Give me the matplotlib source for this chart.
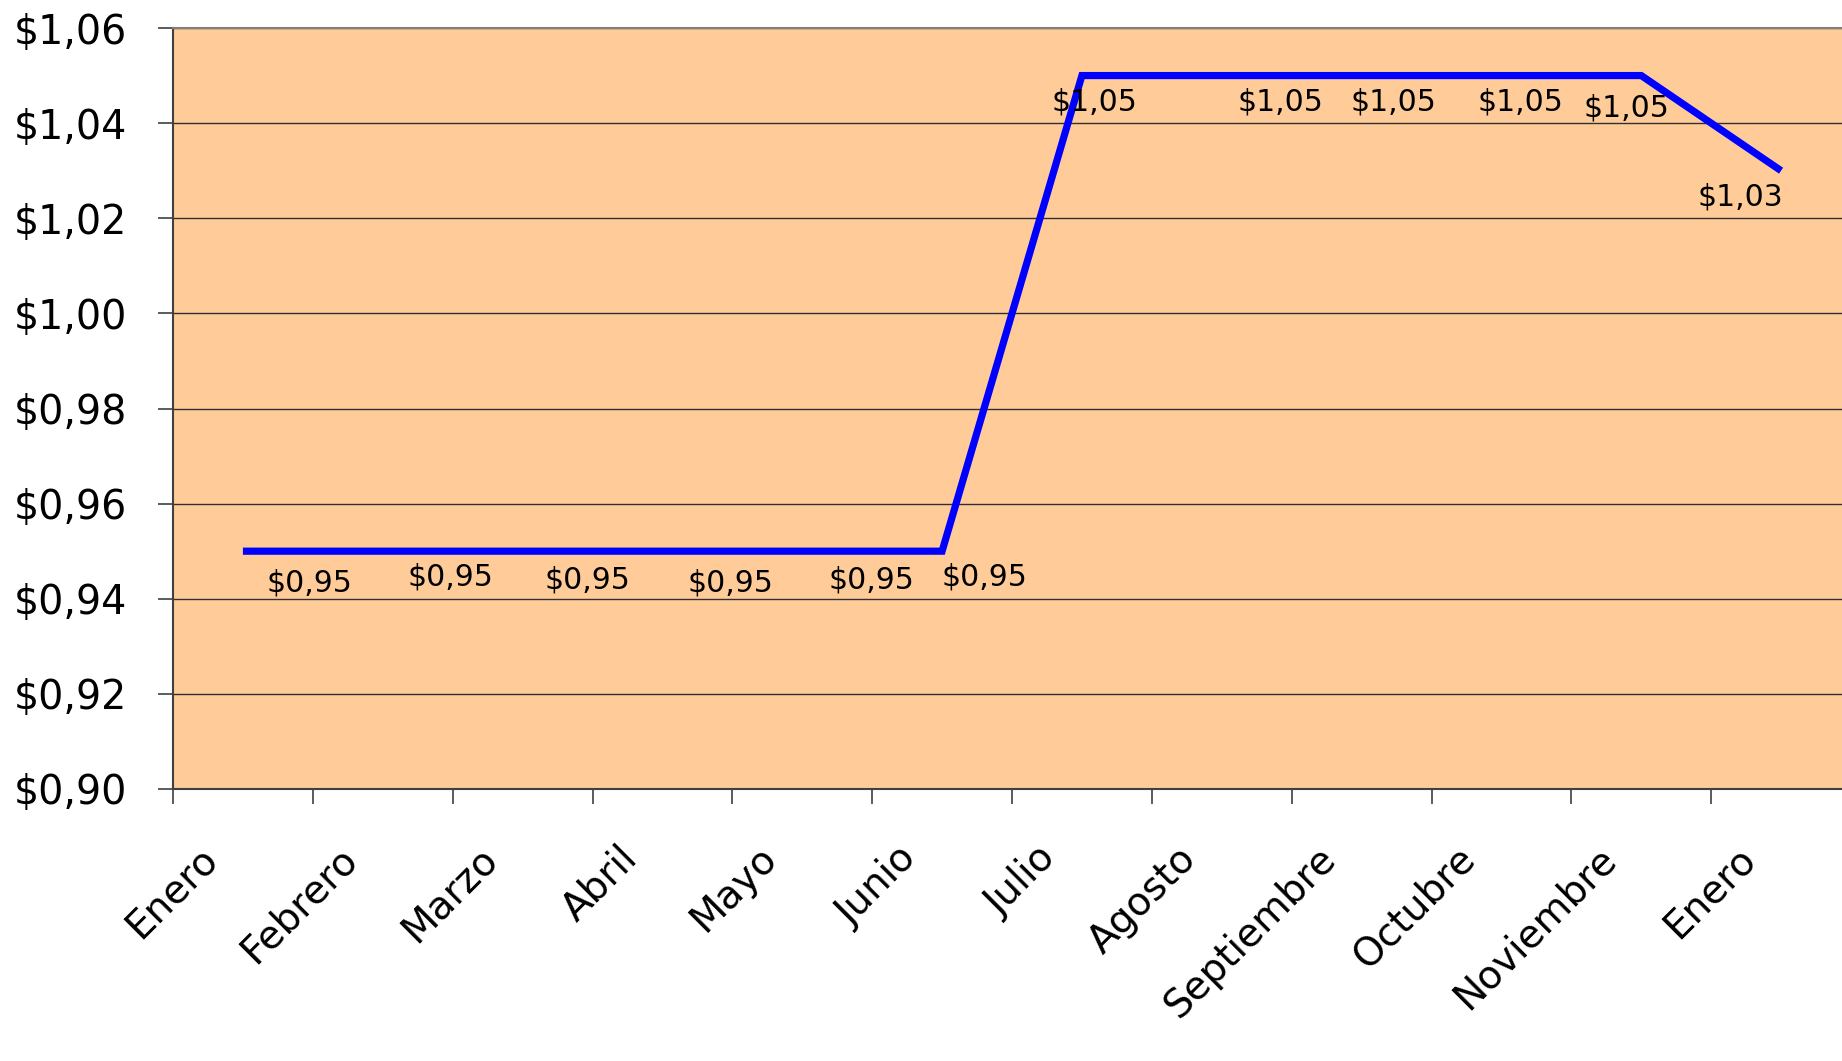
import matplotlib.pyplot as plt
from matplotlib.transforms import ScaledTranslation

# Datos del grafico
meses = ['Enero', 'Febrero', 'Marzo', 'Abril', 'Mayo', 'Junio', 'Julio',
         'Agosto', 'Septiembre', 'Octubre', 'Noviembre', 'Enero']
precios = [0.95, 0.95, 0.95, 0.95, 0.95, 0.95, 1.05, 1.05, 1.05, 1.05, 1.05, 1.03]
marcas_y = [0.90, 0.92, 0.94, 0.96, 0.98, 1.00, 1.02, 1.04, 1.06]

# desplazamiento de cada etiqueta de dato (pixeles)
desplazamientos = [(67, -32), (68, -26), (65, -29), (68, -32), (69, -29), (42, -26),
                   (13, -26), (59, -26), (32, -26), (19, -26), (-15, -32), (-41, -26)]


def formato(v):
    return ('$%.2f' % v).replace('.', ',')


fig = plt.figure(figsize=(18.42, 10.61), dpi=100)
ax = fig.add_axes([173 / 1842, 1 - 789 / 1061, 1678 / 1842, (789 - 28) / 1061])
ax.set_facecolor('#FFCC99')

x = list(range(len(meses)))
ax.plot(x, precios, color='#0000FF', linewidth=5.2,
        solid_capstyle='butt', solid_joinstyle='miter', zorder=3)

for i, v in enumerate(precios):
    ax.annotate(formato(v), xy=(i, v), xytext=desplazamientos[i],
                textcoords='offset pixels', ha='center', va='center',
                fontsize=21.5, color='black', zorder=4)

ax.set_xlim(-0.5, len(meses) - 0.5)
ax.set_ylim(0.90, 1.06)

# eje y
ax.set_yticks(marcas_y)
ax.set_yticklabels([formato(v) for v in marcas_y], fontsize=28.5)
ax.tick_params(axis='y', length=11, width=1.2, color='#404040', pad=22)
ax.grid(axis='y', color='#303030', linewidth=1.0)
ax.set_axisbelow(True)

# eje x: marcas en los limites, nombres en el centro
ax.set_xticks([i - 0.5 for i in range(len(meses) + 1)])
ax.set_xticklabels([])
ax.tick_params(axis='x', which='major', length=11, width=1.2, color='#404040')
ax.set_xticks(x, minor=True)
ax.set_xticklabels(meses, minor=True, rotation=45, ha='right', va='top', fontsize=28)
ax.tick_params(axis='x', which='minor', length=0, pad=0)
desplazar = ScaledTranslation(-18 / 100, -50 / 100, fig.dpi_scale_trans)
for etiqueta in ax.get_xticklabels(minor=True):
    etiqueta.set_transform(etiqueta.get_transform() + desplazar)

for lado in ['left', 'bottom']:
    ax.spines[lado].set_color('#404040')
    ax.spines[lado].set_linewidth(1.5)
ax.spines['top'].set_color('#808080')
ax.spines['top'].set_linewidth(1.5)
ax.spines['right'].set_visible(False)

fig.savefig('out.png', dpi=100)
